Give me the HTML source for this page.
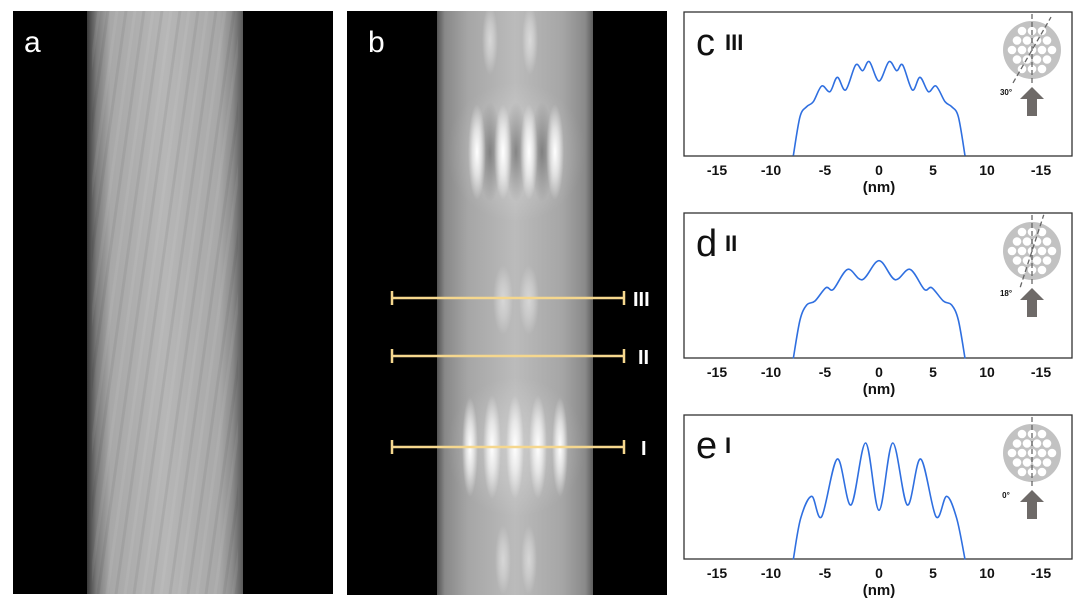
<!DOCTYPE html>
<html><head><meta charset="utf-8">
<style>
html,body{margin:0;padding:0;background:#fff;}
svg{display:block;}
text{font-family:"Liberation Sans",Arial,sans-serif;}
</style></head>
<body>
<svg id="s" width="1080" height="606" viewBox="0 0 1080 606" xmlns="http://www.w3.org/2000/svg">
<defs>
<linearGradient id="bandA" x1="0" x2="1" y1="0" y2="0">
<stop offset="0" stop-color="#3a3a3a"/><stop offset="0.06" stop-color="#7a7a7a"/><stop offset="0.15" stop-color="#a8a8a8"/>
<stop offset="0.5" stop-color="#b6b6b6"/><stop offset="0.85" stop-color="#a8a8a8"/><stop offset="0.93" stop-color="#8c8c8c"/><stop offset="1" stop-color="#5a5a5a"/>
</linearGradient>
<linearGradient id="bandB" x1="0" x2="1" y1="0" y2="0">
<stop offset="0" stop-color="#555"/><stop offset="0.05" stop-color="#888"/><stop offset="0.2" stop-color="#a6a6a6"/>
<stop offset="0.5" stop-color="#bbbbbb"/><stop offset="0.8" stop-color="#a6a6a6"/><stop offset="0.95" stop-color="#8a8a8a"/><stop offset="1" stop-color="#5e5e5e"/>
</linearGradient>
<radialGradient id="wstreak"><stop offset="0" stop-color="#fff" stop-opacity="1"/><stop offset="0.5" stop-color="#fff" stop-opacity="0.6"/><stop offset="1" stop-color="#fff" stop-opacity="0"/></radialGradient>
<radialGradient id="dstreak"><stop offset="0" stop-color="#666" stop-opacity="0.7"/><stop offset="1" stop-color="#666" stop-opacity="0"/></radialGradient>
<pattern id="strands" width="18" height="606" patternUnits="userSpaceOnUse" patternTransform="skewX(-8)">
<rect width="18" height="606" fill="none"/><rect x="0" width="3" height="606" fill="#000" opacity="0.06"/><rect x="9" width="3" height="606" fill="#fff" opacity="0.06"/>
</pattern>
<g id="disk">
<circle r="29" fill="#c2c2c2"/>
<g fill="#fff">
<circle cx="-10" cy="-19" r="4.3"/><circle cx="0" cy="-19" r="4.3"/><circle cx="10" cy="-19" r="4.3"/>
<circle cx="-15" cy="-9.5" r="4.3"/><circle cx="-5" cy="-9.5" r="4.3"/><circle cx="5" cy="-9.5" r="4.3"/><circle cx="15" cy="-9.5" r="4.3"/>
<circle cx="-20" cy="0" r="4.3"/><circle cx="-10" cy="0" r="4.3"/><circle cx="0" cy="0" r="4.3"/><circle cx="10" cy="0" r="4.3"/><circle cx="20" cy="0" r="4.3"/>
<circle cx="-15" cy="9.5" r="4.3"/><circle cx="-5" cy="9.5" r="4.3"/><circle cx="5" cy="9.5" r="4.3"/><circle cx="15" cy="9.5" r="4.3"/>
<circle cx="-10" cy="19" r="4.3"/><circle cx="0" cy="19" r="4.3"/><circle cx="10" cy="19" r="4.3"/>
</g>
</g>
<g id="arrow"><polygon points="-12,12 0,0 12,12 5,12 5,29 -5,29 -5,12" fill="#6e6a68"/></g>
</defs>

<!-- panel a -->
<rect x="13" y="11" width="320" height="583" fill="#000"/>
<rect x="87" y="11" width="156" height="583" fill="url(#bandA)"/>
<rect x="92" y="11" width="146" height="583" fill="url(#strands)"/>
<text x="24" y="52" font-size="30" fill="#fff">a</text>

<!-- panel b -->
<rect x="347" y="11" width="320" height="584" fill="#000"/>
<rect x="437" y="11" width="156" height="584" fill="url(#bandB)"/>
<g>
<ellipse cx="516" cy="152" rx="70" ry="70" fill="url(#wstreak)" opacity="0.25"/>
<ellipse cx="516" cy="447" rx="70" ry="70" fill="url(#wstreak)" opacity="0.25"/>
<ellipse cx="490" cy="152" rx="12" ry="50" fill="url(#dstreak)"/><ellipse cx="516" cy="152" rx="12" ry="50" fill="url(#dstreak)"/><ellipse cx="542" cy="152" rx="12" ry="50" fill="url(#dstreak)"/>
<ellipse cx="477" cy="152" rx="9" ry="48" fill="url(#wstreak)"/><ellipse cx="503" cy="152" rx="9" ry="48" fill="url(#wstreak)"/>
<ellipse cx="529" cy="152" rx="9" ry="48" fill="url(#wstreak)"/><ellipse cx="555" cy="152" rx="9" ry="48" fill="url(#wstreak)"/>
<ellipse cx="470" cy="447" rx="8" ry="50" fill="url(#wstreak)"/><ellipse cx="492" cy="447" rx="9" ry="52" fill="url(#wstreak)"/>
<ellipse cx="515" cy="447" rx="9" ry="52" fill="url(#wstreak)"/><ellipse cx="538" cy="447" rx="9" ry="52" fill="url(#wstreak)"/>
<ellipse cx="560" cy="447" rx="8" ry="50" fill="url(#wstreak)"/>
<ellipse cx="490" cy="40" rx="8" ry="35" fill="url(#wstreak)" opacity="0.5"/><ellipse cx="530" cy="40" rx="8" ry="35" fill="url(#wstreak)" opacity="0.5"/>
<ellipse cx="503" cy="300" rx="10" ry="35" fill="url(#wstreak)" opacity="0.45"/><ellipse cx="529" cy="300" rx="10" ry="35" fill="url(#wstreak)" opacity="0.45"/>
<ellipse cx="503" cy="560" rx="8" ry="35" fill="url(#wstreak)" opacity="0.45"/><ellipse cx="529" cy="560" rx="8" ry="35" fill="url(#wstreak)" opacity="0.45"/>
</g>
<text x="368" y="52" font-size="30" fill="#fff">b</text>
<g stroke="#f5d78e" stroke-width="2.5" fill="none">
<line x1="392" y1="298" x2="624" y2="298"/><line x1="392" y1="291" x2="392" y2="305"/><line x1="624" y1="291" x2="624" y2="305"/>
<line x1="392" y1="356" x2="624" y2="356"/><line x1="392" y1="349" x2="392" y2="363"/><line x1="624" y1="349" x2="624" y2="363"/>
<line x1="392" y1="447" x2="624" y2="447"/><line x1="392" y1="440" x2="392" y2="454"/><line x1="624" y1="440" x2="624" y2="454"/>
</g>
<g fill="#fff" font-weight="bold" font-size="20">
<text x="633" y="306">III</text><text x="638" y="364">II</text><text x="641" y="455">I</text>
</g>

<g id="plots" font-weight="bold" font-size="14" fill="#111"></g>
</svg>
<script>
var s=document.getElementById('plots');
var NS='http://www.w3.org/2000/svg';
function el(t,a,txt){var e=document.createElementNS(NS,t);for(var k in a)e.setAttribute(k,a[k]);if(txt)e.textContent=txt;s.appendChild(e);return e;}
function cr(p){var d='M'+p[0][0]+','+p[0][1];for(var i=0;i<p.length-1;i++){var p0=p[i-1]||p[i],p1=p[i],p2=p[i+1],p3=p[i+2]||p2;
d+=' C'+(p1[0]+(p2[0]-p0[0])/6).toFixed(2)+','+(p1[1]+(p2[1]-p0[1])/6).toFixed(2)+' '+(p2[0]-(p3[0]-p1[0])/6).toFixed(2)+','+(p2[1]-(p3[1]-p1[1])/6).toFixed(2)+' '+p2[0].toFixed(2)+','+p2[1].toFixed(2);}return d;}
var panels=[
{top:12,bot:156,oy:0,lab:'c',rom:'III',ang:'30°',tilt:30,pts:[[340,467],[360,350],[380,320],[400,305],[425,258],[450,275],[472,232],[497,270],[527,195],[548,212],[568,185],[597,243],[627,185],[650,212],[668,195],[697,270],[720,232],[745,275],[768,258],[795,305],[815,320],[835,350],[855,467]]},
{top:213,bot:358,oy:205,lab:'d',rom:'II',ang:'18°',tilt:18,pts:[[340,460],[360,345],[380,300],[405,288],[438,248],[460,253],[503,193],[547,224],[597,167],[645,224],[690,193],[733,253],[755,248],[790,288],[815,300],[835,345],[855,460]]},
{top:415,bot:559,oy:205,lab:'e',rom:'I',ang:'0°',tilt:0,pts:[[340,1063],[362,940],[395,874],[425,935],[472,762],[513,900],[557,714],[597,916],[638,714],[682,900],[722,762],[768,935],[800,874],[830,940],[855,1063]]}
];
panels.forEach(function(P){
 el('rect',{x:684,y:P.top,width:388,height:P.bot-P.top,fill:'#fff',stroke:'#333','stroke-width':1.3});
 var pts=P.pts.map(function(q){return [680+q[0]/3,P.oy+q[1]/3];});
 el('path',{d:cr(pts),fill:'none',stroke:'#2f6fe0','stroke-width':1.6});
 var ticks=[[-15,'-15'],[-10,'-10'],[-5,'-5'],[0,'0'],[5,'5'],[10,'10'],[15,'-15']];
 ticks.forEach(function(t){el('text',{x:879+t[0]*10.8,y:P.bot+19,'text-anchor':'middle','font-size':14},t[1]);});
 el('text',{x:879,y:P.bot+36,'text-anchor':'middle','font-size':15},'(nm)');
 el('text',{x:696,y:P.top+43,'font-size':38,'font-weight':'normal'},P.lab);
 el('text',{x:725,y:P.top+38,'font-size':22},P.rom);
 var cy=P.top+38;
 el('use',{href:'#disk',x:1032,y:cy});
 el('line',{x1:1032,y1:P.top+2,x2:1032,y2:cy+34,stroke:'#666','stroke-width':1.3,'stroke-dasharray':'5,3'});
 if(P.tilt){var a=P.tilt*Math.PI/180,L=38;
  el('line',{x1:1032-Math.sin(a)*L,y1:cy+Math.cos(a)*L,x2:1032+Math.sin(a)*L,y2:cy-Math.cos(a)*L,stroke:'#666','stroke-width':1.3,'stroke-dasharray':'5,3'});}
 el('use',{href:'#arrow',x:1032,y:cy+37});
 el('text',{x:1006,y:cy+45,'font-size':8,'text-anchor':'middle'},P.ang);
});
</script>
</body></html>
